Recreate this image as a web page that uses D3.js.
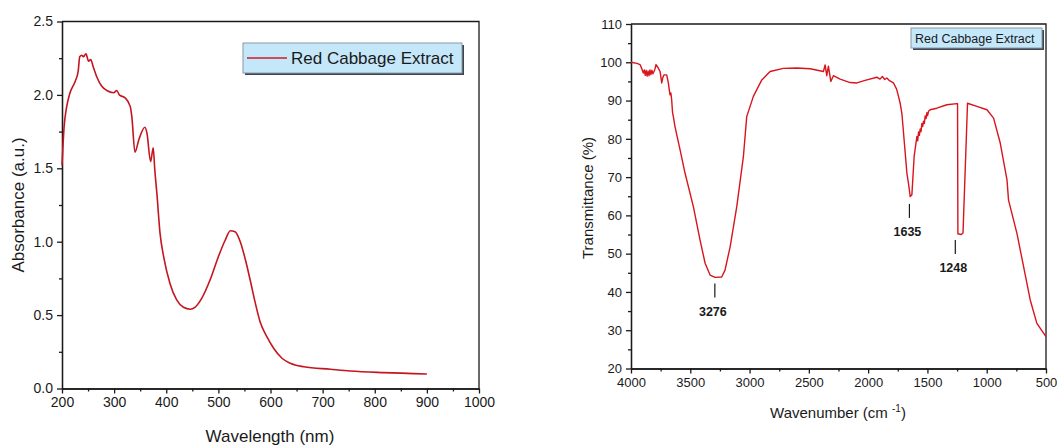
<!DOCTYPE html>
<html>
<head>
<meta charset="utf-8">
<script src="https://cdn.jsdelivr.net/npm/d3@7"></script>
<style>
  body { margin: 0; background: #fff; }
  svg { font-family: "Liberation Sans", Arial, sans-serif; }
  .axis path, .axis line { stroke: #1a1a1a; stroke-width: 1.3; }
  .axis text { fill: #1a1a1a; }
</style>
</head>
<body>
<svg width="1057" height="447"></svg>
<script>
// UV-Vis spectrum (left panel)
var uvWavelength = [200, 204, 209, 215, 225, 231, 234, 238, 241, 246, 251, 255, 260, 267, 276, 286, 299, 305, 310,
    321, 331, 334, 340, 347, 359, 363, 370, 375, 378, 382, 388, 395, 407, 420, 433, 446, 455, 468, 484, 500,
    513, 523, 532, 542, 552, 561, 571, 580, 593, 606, 622, 638, 664, 715, 753, 817, 900];
var uvAbsorbance = [1.52, 1.78, 1.92, 2.01, 2.09, 2.16, 2.26, 2.27, 2.26, 2.28, 2.23, 2.24, 2.19, 2.12, 2.06, 2.03, 2.015, 2.03, 2.0,
    1.98, 1.92, 1.85, 1.61, 1.69, 1.78, 1.74, 1.545, 1.64, 1.49, 1.33, 1.06, 0.898, 0.717, 0.603, 0.553, 0.54, 0.553, 0.614, 0.739, 0.898,
    1.01, 1.075, 1.068, 1.0, 0.875, 0.739, 0.58, 0.455, 0.353, 0.274, 0.206, 0.172, 0.148, 0.131, 0.119, 0.108, 0.099];
var uvXTicks = [200, 300, 400, 500, 600, 700, 800, 900, 1000];
var uvYTicks = [0.0, 0.5, 1.0, 1.5, 2.0, 2.5];

// FTIR spectrum (right panel)
var irWavenumber = [4000, 3950, 3924, 3910, 3896, 3888, 3880, 3872, 3864, 3856, 3848, 3840, 3832, 3824, 3815, 3800,
    3789, 3772, 3755, 3741, 3730, 3721, 3699, 3685, 3678, 3671, 3664, 3657, 3650, 3643, 3629,
    3586, 3544, 3474, 3418, 3375, 3333, 3291, 3235, 3207, 3164, 3108, 3052, 3024, 2968, 2897, 2827, 2715,
    2601, 2489, 2377, 2363, 2349, 2335, 2315, 2293, 2236, 2152, 2095, 2011, 1926, 1900, 1880, 1860, 1842, 1820,
    1786, 1760, 1744, 1730, 1715, 1673, 1660, 1645, 1631, 1612, 1596, 1589, 1582, 1575, 1568, 1561, 1554, 1547,
    1540, 1533, 1526, 1519, 1512, 1505, 1498, 1491, 1477, 1421, 1336, 1251, 1246, 1243, 1215, 1200,
    1170, 1162, 1083, 998, 942, 886, 829, 816, 745, 689, 633, 577, 500];
var irTransmittance = [100.0, 99.7, 99.4, 98.4, 97.2, 98.0, 96.6, 97.9, 96.4, 97.7, 96.5, 98.0, 96.8, 97.9, 97.0, 98.0,
    99.4, 98.6, 97.6, 94.6, 96.2, 96.7, 96.7, 94.6, 93.0, 91.5, 92.0, 90.2, 87.0, 85.8, 83.2,
    77.1, 71.0, 62.3, 53.6, 47.5, 44.4, 43.8, 43.9, 45.7, 51.8, 62.3, 75.4, 85.8, 91.1, 95.4, 97.6, 98.4,
    98.5, 98.3, 97.6, 99.3, 96.5, 99.0, 95.0, 96.5, 95.6, 94.7, 94.6, 95.4, 96.1, 95.6, 96.3, 95.5, 95.9, 95.2,
    94.6, 93.0, 91.1, 89.3, 86.5, 71.0, 68.4, 64.9, 65.4, 75.4, 79.0, 80.6, 79.5, 81.8, 80.9, 82.6, 81.9, 84.0,
    83.2, 84.6, 84.0, 86.0, 85.3, 86.8, 86.1, 87.2, 87.6, 88.0, 88.9, 89.2, 89.2, 55.2, 55.0, 55.4,
    82.0, 89.3, 88.5, 87.6, 85.4, 78.9, 69.3, 64.0, 55.3, 46.6, 37.9, 31.8, 28.3];
var irXTicks = [4000, 3500, 3000, 2500, 2000, 1500, 1000, 500];
var irYTicks = [20, 30, 40, 50, 60, 70, 80, 90, 100, 110];
var peakWavenumber = [3276, 1635, 1248];
var peakMarkTop = [42.2, 63.0, 53.6];

var svg = d3.select('svg');

function frame(g, x, y) {
    var x0 = x.range()[0], x1 = x.range()[1], y0 = y.range()[0], y1 = y.range()[1];
    g.append('path')
        .attr('d', 'M' + x0 + ',' + y1 + 'H' + x1 + 'V' + y0)
        .attr('fill', 'none')
        .attr('stroke', '#1a1a1a')
        .attr('stroke-width', 1.3);
}

function minors(ticks) {
    var out = [];
    for (var i = 0; i < ticks.length - 1; i++) out.push((ticks[i] + ticks[i + 1]) / 2);
    return out;
}

// ---------- left panel ----------
var xUv = d3.scaleLinear().domain([200, 1000]).range([62, 479]);
var yUv = d3.scaleLinear().domain([0, 2.5]).range([388.5, 21.5]);
var left = svg.append('g');

left.append('g')
    .attr('class', 'axis')
    .attr('transform', 'translate(0,388.5)')
    .call(d3.axisBottom(xUv).tickValues(minors(uvXTicks)).tickSize(3).tickSizeOuter(0).tickFormat(''));
left.append('g')
    .attr('class', 'axis')
    .attr('transform', 'translate(0,388.5)')
    .style('font-size', '14px')
    .call(d3.axisBottom(xUv).tickValues(uvXTicks).tickSize(5).tickSizeOuter(0).tickPadding(4).tickFormat(d3.format('d')));
left.append('g')
    .attr('class', 'axis')
    .attr('transform', 'translate(62,0)')
    .call(d3.axisLeft(yUv).tickValues(minors(uvYTicks)).tickSize(3).tickSizeOuter(0).tickFormat(''));
left.append('g')
    .attr('class', 'axis')
    .attr('transform', 'translate(62,0)')
    .style('font-size', '14px')
    .call(d3.axisLeft(yUv).tickValues(uvYTicks).tickSize(5).tickSizeOuter(0).tickPadding(4).tickFormat(d3.format('.1f')));
frame(left, xUv, yUv);

left.append('path')
    .datum(d3.zip(uvWavelength, uvAbsorbance))
    .attr('fill', 'none')
    .attr('stroke', '#c3161f')
    .attr('stroke-width', 1.6)
    .attr('stroke-linejoin', 'round')
    .attr('d', d3.line().curve(d3.curveMonotoneX)
        .x(function(d) { return xUv(d[0]); }).y(function(d) { return yUv(d[1]); }));

left.append('text')
    .attr('x', 270).attr('y', 442)
    .attr('text-anchor', 'middle')
    .style('font-size', '17px').attr('fill', '#1a1a1a')
    .text('Wavelength (nm)');
left.append('text')
    .attr('transform', 'translate(24,205)rotate(-90)')
    .attr('text-anchor', 'middle')
    .style('font-size', '17px').attr('fill', '#1a1a1a')
    .text('Absorbance (a.u.)');

// legend
left.append('rect').attr('x', 245).attr('y', 45).attr('width', 219).attr('height', 30).attr('fill', '#3d4650');
left.append('rect').attr('x', 243).attr('y', 43).attr('width', 219).attr('height', 30)
    .attr('fill', '#c5e7fa').attr('stroke', '#8a9aa6').attr('stroke-width', 1);
left.append('line').attr('x1', 247).attr('x2', 287).attr('y1', 58).attr('y2', 58)
    .attr('stroke', '#d01a24').attr('stroke-width', 1.6);
left.append('text').attr('x', 291).attr('y', 64)
    .style('font-size', '17px').attr('fill', '#1a1a1a')
    .text('Red Cabbage Extract');

// ---------- right panel ----------
var xIr = d3.scaleLinear().domain([4000, 500]).range([631, 1046]);
var yIr = d3.scaleLinear().domain([20, 110]).range([368.5, 24]);
var right = svg.append('g');

right.append('g')
    .attr('class', 'axis')
    .attr('transform', 'translate(0,368.5)')
    .call(d3.axisBottom(xIr).tickValues(minors(irXTicks)).tickSize(3).tickSizeOuter(0).tickFormat(''));
right.append('g')
    .attr('class', 'axis')
    .attr('transform', 'translate(0,368.5)')
    .style('font-size', '13px')
    .call(d3.axisBottom(xIr).tickValues(irXTicks).tickSize(5).tickSizeOuter(0).tickPadding(4).tickFormat(d3.format('d')));
right.append('g')
    .attr('class', 'axis')
    .attr('transform', 'translate(631,0)')
    .call(d3.axisLeft(yIr).tickValues(minors(irYTicks)).tickSize(3).tickSizeOuter(0).tickFormat(''));
right.append('g')
    .attr('class', 'axis')
    .attr('transform', 'translate(631,0)')
    .style('font-size', '13px')
    .call(d3.axisLeft(yIr).tickValues(irYTicks).tickSize(5).tickSizeOuter(0).tickPadding(4).tickFormat(d3.format('d')));
frame(right, xIr, yIr);

right.append('path')
    .datum(d3.zip(irWavenumber, irTransmittance))
    .attr('fill', 'none')
    .attr('stroke', '#d8141c')
    .attr('stroke-width', 1.4)
    .attr('stroke-linejoin', 'round')
    .attr('d', d3.line().x(function(d) { return xIr(d[0]); }).y(function(d) { return yIr(d[1]); }));

// peak annotations
var peaks = right.selectAll('.peak')
    .data(d3.zip(peakWavenumber, peakMarkTop))
    .enter().append('g').attr('class', 'peak');
peaks.append('line')
    .attr('x1', function(d) { return xIr(d[0]) - 2; })
    .attr('x2', function(d) { return xIr(d[0]) - 2; })
    .attr('y1', function(d) { return yIr(d[1]); })
    .attr('y2', function(d) { return yIr(d[1]) + 14; })
    .attr('stroke', '#1a1a1a').attr('stroke-width', 1.2);
peaks.append('text')
    .attr('x', function(d) { return xIr(d[0]) - 4; })
    .attr('y', function(d) { return yIr(d[1]) + 32; })
    .attr('text-anchor', 'middle')
    .style('font-size', '12.5px').style('font-weight', 'bold').attr('fill', '#1a1a1a')
    .text(function(d) { return d[0]; });

right.append('text')
    .attr('x', 838).attr('y', 418)
    .attr('text-anchor', 'middle')
    .style('font-size', '15px').attr('fill', '#1a1a1a')
    .call(function(t) {
        t.append('tspan').text('Wavenumber (cm ');
        t.append('tspan').attr('dy', -6).style('font-size', '10px').text('-1');
        t.append('tspan').attr('dy', 6).text(')');
    });
right.append('text')
    .attr('transform', 'translate(593,198)rotate(-90)')
    .attr('text-anchor', 'middle')
    .style('font-size', '15px').attr('fill', '#1a1a1a')
    .text('Transmittance (%)');

// legend
right.append('rect').attr('x', 913).attr('y', 30).attr('width', 131).attr('height', 20).attr('fill', '#3d4650');
right.append('rect').attr('x', 911).attr('y', 28).attr('width', 131).attr('height', 20)
    .attr('fill', '#c5e7fa').attr('stroke', '#8a9aa6').attr('stroke-width', 1);
right.append('text').attr('x', 915).attr('y', 43)
    .style('font-size', '12.5px').attr('fill', '#1a1a1a')
    .text('Red Cabbage Extract');
</script>
</body>
</html>
